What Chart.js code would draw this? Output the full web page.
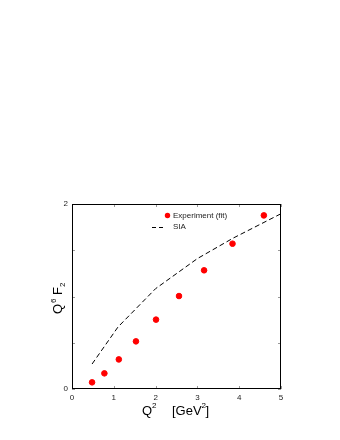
<!DOCTYPE html>
<html>
<head>
<meta charset="utf-8">
<script src="https://cdn.jsdelivr.net/npm/chart.js@4"></script>
<style>
  body { margin: 0; background: #fff; }
  #wrap { width: 340px; height: 440px; }
</style>
</head>
<body>
<div id="wrap"><canvas id="chart" width="340" height="440"></canvas></div>
<script>
const expQ2 = [0.48, 0.775, 1.12, 1.53, 2.01, 2.56, 3.16, 3.84, 4.59];
const expVal = [0.072, 0.169, 0.32, 0.515, 0.75, 1.005, 1.283, 1.571, 1.877];
const siaQ2 = [0.48, 1.1, 2.0, 3.0, 3.85, 5.0];
const siaVal = [0.27, 0.67, 1.085, 1.41, 1.63, 1.895];
const xTicks = [0, 1, 2, 3, 4, 5];
const yTicks = [0, 0.5, 1, 1.5, 2];
const yLabels = ["0", "", "", "", "2"];

const ctx = document.getElementById("chart").getContext("2d");
const font = "Liberation Sans, Arial, sans-serif";

const frame = {
  id: "frame",
  afterDraw(chart) {
    const c = chart.ctx;
    const a = chart.chartArea;
    const xs = chart.scales.x, ys = chart.scales.y;
    c.save();
    // small inward ticks, faint
    c.strokeStyle = "#999";
    c.lineWidth = 1;
    c.beginPath();
    xTicks.forEach(v => {
      const px = Math.round(xs.getPixelForValue(v)) + 0.5;
      c.moveTo(px, a.bottom); c.lineTo(px, a.bottom - 3);
      c.moveTo(px, a.top); c.lineTo(px, a.top + 3);
    });
    yTicks.forEach(v => {
      const py = Math.round(ys.getPixelForValue(v)) + 0.5;
      c.moveTo(a.left, py); c.lineTo(a.left + 3, py);
      c.moveTo(a.right, py); c.lineTo(a.right - 3, py);
    });
    c.stroke();
    c.strokeStyle = "#000";
    c.strokeRect(a.left + 0.5, a.top + 0.5, a.right - a.left - 1, a.bottom - a.top - 1);

    // tick labels
    c.fillStyle = "#222";
    c.font = "8px " + font;
    c.textAlign = "center";
    c.textBaseline = "middle";
    xTicks.forEach(v => c.fillText(String(v), xs.getPixelForValue(v), a.bottom + 9));
    c.textAlign = "right";
    yTicks.forEach((v, i) => {
      if (yLabels[i]) c.fillText(yLabels[i], a.left - 4, ys.getPixelForValue(v));
    });

    // x title
    c.fillStyle = "#000";
    c.textAlign = "left";
    c.textBaseline = "alphabetic";
    c.font = "13px " + font;
    c.fillText("Q", 142, 415);
    c.font = "8px " + font;
    c.fillText("2", 152, 408);
    c.font = "13px " + font;
    c.fillText("[GeV", 172, 415);
    let w = c.measureText("[GeV").width;
    c.font = "8px " + font;
    c.fillText("2", 172 + w, 408);
    c.font = "13px " + font;
    c.fillText("]", 172 + w + 4, 415);

    // y title
    c.save();
    c.translate(62, 298);
    c.rotate(-Math.PI / 2);
    c.textAlign = "left";
    c.font = "13px " + font;
    c.fillText("Q", -16, 0);
    c.font = "8px " + font;
    c.fillText("6", -5, -6);
    c.font = "13px " + font;
    c.fillText("F", 3, 0);
    c.font = "8px " + font;
    c.fillText("2", 11, 3);
    c.restore();

    // legend
    c.fillStyle = "red";
    c.beginPath();
    c.arc(167.5, 215.5, 2.7, 0, Math.PI * 2);
    c.fill();
    c.strokeStyle = "#000";
    c.setLineDash([4, 3]);
    c.beginPath();
    c.moveTo(152, 227.5); c.lineTo(164, 227.5);
    c.stroke();
    c.setLineDash([]);
    c.fillStyle = "#222";
    c.font = "8px " + font;
    c.textBaseline = "middle";
    c.fillText("Experiment (fit)", 173, 216);
    c.fillText("SIA", 173, 227);
    c.restore();
  }
};

const data = {
  datasets: [
    {
      label: "Experiment (fit)",
      data: expQ2.map((x, i) => ({ x: x, y: expVal[i] })),
      backgroundColor: "red",
      borderColor: "red",
      pointRadius: 2.8,
      showLine: false,
    },
    {
      label: "SIA",
      data: siaQ2.map((x, i) => ({ x: x, y: siaVal[i] })),
      borderColor: "#000",
      borderWidth: 1,
      borderDash: [5, 3],
      pointRadius: 0,
      showLine: true,
      fill: false,
    },
  ],
};

const config = {
  type: "scatter",
  data: data,
  plugins: [frame],
  options: {
    responsive: false,
    animation: false,
    layout: { padding: { left: 0, right: 59, top: 204, bottom: 0 } },
    plugins: { legend: { display: false }, tooltip: { enabled: false } },
    scales: {
      x: {
        type: "linear", min: 0, max: 5,
        grid: { display: false }, border: { display: false },
        ticks: { display: false },
        afterFit: (s) => { s.height = 51; },
      },
      y: {
        type: "linear", min: 0, max: 2,
        grid: { display: false }, border: { display: false },
        ticks: { display: false },
        afterFit: (s) => { s.width = 72; },
      },
    },
  },
};

const chart = new Chart(ctx, config);
</script>
</body>
</html>
